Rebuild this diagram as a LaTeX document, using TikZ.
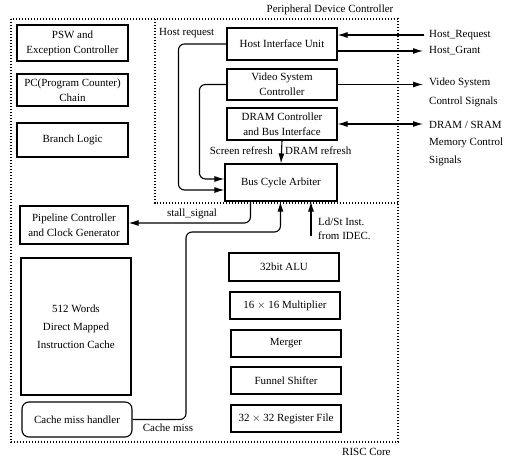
\documentclass[tikz,border=0pt]{standalone}
\usepackage{fontspec}
\setmainfont{Liberation Serif}
\usetikzlibrary{arrows.meta,calc}
\begin{document}
\begin{tikzpicture}[x=1bp,y=-1bp,
  box/.style={draw, line width=1.1bp, align=center, inner sep=1bp, font=\fontsize{11}{15}\selectfont},
  lbl/.style={inner sep=0pt, font=\fontsize{11}{13}\selectfont},
  arr/.style={line width=1.1bp, -{Latex[length=10bp,width=6bp]}},
  darr/.style={line width=1.1bp, {Latex[length=10bp,width=6bp]}-{Latex[length=10bp,width=6bp]}},
  dotbox/.style={line width=1.3bp, dash pattern=on 1.3bp off 1.7bp}]
\useasboundingbox (0,0) rectangle (517,461);
% dotted regions
\draw[dotbox] (11,19) rectangle (398,442);
\draw[dotbox] (155,19) -- (155,203) -- (398,203);
\node[lbl] (pdc) at (330,10) {Peripheral Device Controller};
\node[lbl, anchor=west] (risc) at (342,452) {RISC Core};
% left column
\node[box, minimum width=111bp, minimum height=36bp] (psw) at (72.5,43) {PSW and\\Exception Controller};
\node[box, minimum width=111bp, minimum height=32bp] (pc) at (72.5,90) {PC(Program Counter)\\Chain};
\node[box, minimum width=111bp, minimum height=34bp] (branch) at (72.5,140) {Branch Logic};
\node[box, minimum width=108bp, minimum height=38bp] (pipe) at (74,225) {Pipeline Controller\\and Clock Generator};
\node[box, minimum width=110bp, minimum height=137bp, font=\fontsize{11}{18}\selectfont] (icache) at (76,326.5) {512 Words\\Direct Mapped\\Instruction Cache};
\node[box, minimum width=110bp, minimum height=35bp, rounded corners=7bp] (cmh) at (77,419.5) {Cache miss handler};
% peripheral
\node[box, minimum width=110bp, minimum height=32bp] (hiu) at (282,44) {Host Interface Unit};
\node[box, minimum width=110bp, minimum height=31bp] (vsc) at (282,84.5) {Video System\\Controller};
\node[box, minimum width=110bp, minimum height=32bp] (dram) at (282,124) {DRAM Controller\\and Bus Interface};
\node[box, minimum width=112bp, minimum height=37bp] (bca) at (281,182.5) {Bus Cycle Arbiter};
% datapath
\node[box, minimum width=110bp, minimum height=28bp] (alu) at (284,267) {32bit ALU};
\node[box, minimum width=110bp, minimum height=27bp] (mul) at (285,305.5) {16 $\times$ 16 Multiplier};
\node[box, minimum width=110bp, minimum height=27bp] (merger) at (286,343.5) {Merger};
\node[box, minimum width=110bp, minimum height=27bp] (funnel) at (286,380.5) {Funnel Shifter};
\node[box, minimum width=110bp, minimum height=27bp] (reg) at (286,418.5) {32 $\times$ 32 Register File};
% external labels
\node[lbl, anchor=west] (hrq) at (429,35) {Host\_Request};
\node[lbl, anchor=west] (hgr) at (429,51) {Host\_Grant};
\node[lbl, anchor=west] (vs1) at (429,83) {Video System};
\node[lbl, anchor=west] (vs2) at (429,102) {Control Signals};
\node[lbl, anchor=west] (dm1) at (429,125) {DRAM / SRAM};
\node[lbl, anchor=west] (dm2) at (429,143) {Memory Control};
\node[lbl, anchor=west] (dm3) at (429,161) {Signals};
\draw[arr] ($(hrq.west)+(-5,0)$) -- (hrq.west -| hiu.east);
\draw[arr] (hiu.east |- hgr.west) -- ($(hgr.west)+(-6,0)$);
\draw[arr] (vsc.east) -- ($(vsc.east -| vs1.west)+(-6,0)$);
\draw[darr] (dram.east) -- ($(dram.east -| dm1.west)+(-6,0)$);
% internal connectors
\node[lbl, anchor=east] (scr) at (273,151) {Screen refresh};
\node[lbl, anchor=west] (drf) at (285,151) {DRAM refresh};
\draw[arr] (dram.south) -- (bca.north);
\node[lbl, anchor=west] (hreq) at (159,33) {Host request};
\draw[arr, rounded corners=6bp] (hiu.west) -| ($(bca.west)+(-46,7.5)$) -- ($(bca.west)+(0,7.5)$);
\draw[arr, rounded corners=6bp] (vsc.west) -| ($(bca.west)+(-25,-3.5)$) -- ($(bca.west)+(0,-3.5)$);
\node[lbl, anchor=south] (stl) at (192,219) {stall\_signal};
\draw[arr, rounded corners=6bp] ($(bca.south west)+(26,0)$) |- ($(pipe.east)+(0,-2)$);
\coordinate (cmb) at (186,232);
\draw[arr, rounded corners=6bp] (cmh.east) -| (cmb) -| ($(bca.south west)+(56,0)$);
\node[lbl, anchor=north] (cml) at (168,424) {Cache miss};
\coordinate (ldst) at (311,236);
\draw[arr] (ldst) -- (ldst |- bca.south);
\node[lbl, anchor=west] (ld1) at (318,222) {Ld/St Inst.};
\node[lbl, anchor=west] (ld2) at (318,236) {from IDEC.};
\end{tikzpicture}
\end{document}
